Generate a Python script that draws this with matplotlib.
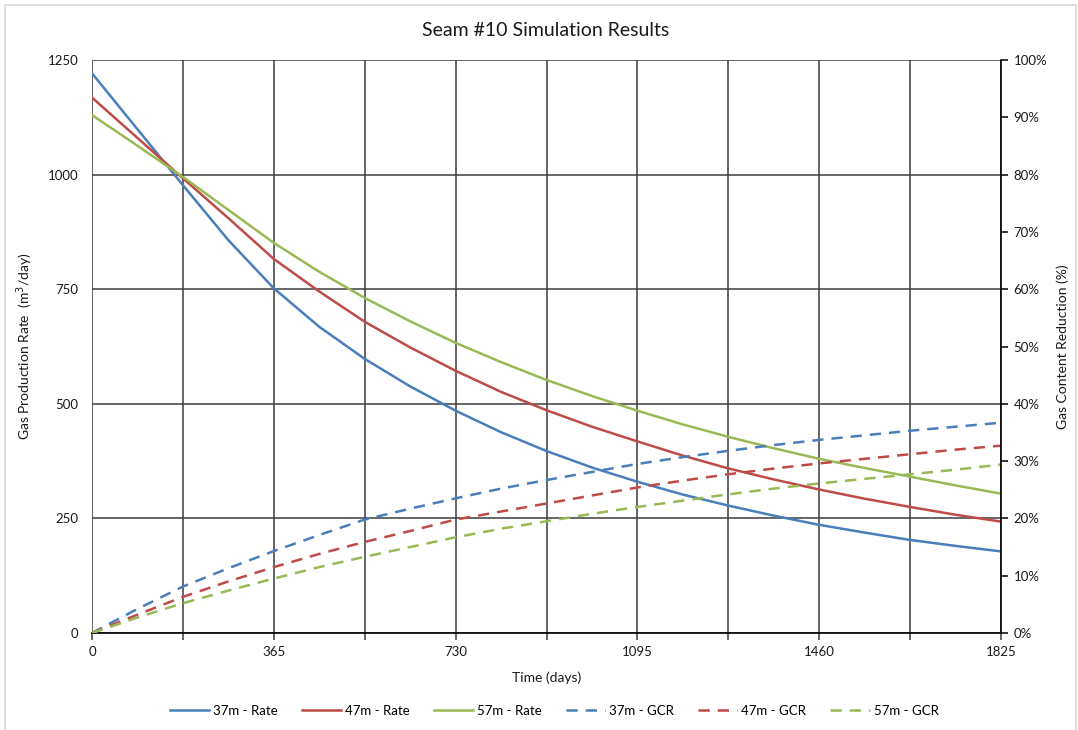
import matplotlib
matplotlib.use("Agg")
import matplotlib.pyplot as plt
from matplotlib.patches import Rectangle
from matplotlib.ticker import FixedLocator, FuncFormatter

plt.rcParams['font.family'] = ['Lato', 'DejaVu Sans']

# Time axis (days)
days = [0, 91.25, 182.5, 273.75, 365, 456.25, 547.5, 638.75, 730, 821.25, 912.5,
        1003.75, 1095, 1186.25, 1277.5, 1368.75, 1460, 1551.25, 1642.5, 1733.75, 1825]

# Gas production rate (m3/day)
rate_37m = [1221, 1099, 977, 857, 752, 668, 598, 538, 485, 438, 397,
            361, 330, 302, 278, 256, 236, 219, 203, 190, 178]
rate_47m = [1168, 1080, 992, 905, 816, 745, 679, 623, 572, 526, 486,
            450, 418, 387, 359, 335, 313, 293, 275, 258, 243]
rate_57m = [1130, 1063, 995, 923, 851, 788, 731, 680, 633, 591, 552,
            517, 485, 455, 428, 403, 380, 360, 341, 322, 304]

# Gas content reduction (%)
gcr_37m = [0, 4.2, 8.1, 11.3, 14.3, 17.1, 19.8, 21.7, 23.5, 25.2, 26.7,
           28.1, 29.5, 30.7, 31.8, 32.8, 33.7, 34.5, 35.3, 36.0, 36.7]
gcr_47m = [0, 3.2, 6.3, 9.0, 11.5, 13.8, 15.9, 17.8, 19.8, 21.2, 22.6,
           24.0, 25.4, 26.6, 27.7, 28.7, 29.6, 30.4, 31.2, 32.0, 32.7]
gcr_57m = [0, 2.7, 5.2, 7.4, 9.5, 11.5, 13.3, 15.0, 16.7, 18.2, 19.5,
           20.8, 22.0, 23.1, 24.2, 25.2, 26.1, 26.9, 27.7, 28.5, 29.4]

x_ticks = [0, 365, 730, 1095, 1460, 1825]
x_grid = [i * 182.5 for i in range(11)]
left_ticks = [0, 250, 500, 750, 1000, 1250]
right_ticks = list(range(0, 101, 10))

BLUE = '#4a7ebb'
RED = '#be4b48'
GREEN = '#98b954'
GRID = '#3c3c3c'
TXT = '#1a1a1a'

W, H = 1078, 730
fig = plt.figure(figsize=(W / 100, H / 100), dpi=100)
fig.patches.append(Rectangle((5 / W, -0.01), (1076 - 5) / W, 1 - 5 / H + 0.01,
                             transform=fig.transFigure, fill=False,
                             edgecolor='#d9d9d9', linewidth=1.2))

ax = fig.add_axes([92 / W, 1 - 633 / H, (1001 - 92) / W, (633 - 60) / H])
ax2 = ax.twinx()

ax.set_xlim(0, 1825)
ax.set_ylim(0, 1250)
ax2.set_ylim(0, 100)

# Grid
for xv in x_grid:
    ax.axvline(xv, color=GRID, lw=1.1, zorder=0)
for yv in left_ticks:
    ax.axhline(yv, color=GRID, lw=1.1, zorder=0)

lw = 1.8
l1, = ax.plot(days, rate_37m, color=BLUE, lw=lw, label='37m - Rate', zorder=3)
l2, = ax.plot(days, rate_47m, color=RED, lw=lw, label='47m - Rate', zorder=3)
l3, = ax.plot(days, rate_57m, color=GREEN, lw=lw, label='57m - Rate', zorder=3)
dash = (0, (4.5, 3.2))
l4, = ax2.plot(days, gcr_37m, color=BLUE, lw=lw, ls=dash, label='37m - GCR')
l5, = ax2.plot(days, gcr_47m, color=RED, lw=lw, ls=dash, label='47m - GCR')
l6, = ax2.plot(days, gcr_57m, color=GREEN, lw=lw, ls=dash, label='57m - GCR')

for a in (ax, ax2):
    for s in a.spines.values():
        s.set_visible(False)
ax2.spines['right'].set_visible(True)
ax2.spines['right'].set_color('#000000')
ax2.spines['right'].set_linewidth(1.2)
ax.spines['bottom'].set_visible(True)
ax.spines['bottom'].set_color('#000000')
ax.spines['bottom'].set_linewidth(1.2)

ax.xaxis.set_major_locator(FixedLocator(x_grid))
ax.xaxis.set_major_formatter(FuncFormatter(
    lambda v, p: f"{int(round(v))}" if int(round(v)) in x_ticks and abs(v - round(v)) < 1e-6 else ""))
ax.tick_params(axis='x', direction='out', length=5, width=1.1, color=GRID,
               labelsize=9.5, labelcolor=TXT, pad=4)
ax.set_yticks(left_ticks)
ax.tick_params(axis='y', length=0, labelsize=9.5, labelcolor=TXT, pad=10)
ax2.set_yticks(right_ticks)
ax2.yaxis.set_major_formatter(FuncFormatter(lambda v, p: f"{int(v)}%"))
ax2.tick_params(axis='y', direction='out', length=5, width=1.1, color='#000000',
                labelsize=9.5, labelcolor=TXT, pad=4)

ax.set_xlabel('Time (days)', fontsize=10, color=TXT, labelpad=10)
ax.set_ylabel('Gas Production Rate  (m$^3$/day)', fontsize=10, color=TXT, labelpad=9)
ax2.set_ylabel('Gas Content Reduction (%)', fontsize=10, color=TXT, labelpad=7)

fig.text(546 / W, 1 - 30 / H, 'Seam #10 Simulation Results', ha='center', va='center',
         fontsize=14, color=TXT)

fig.legend(handles=[l1, l2, l3, l4, l5, l6], loc='center', ncol=6,
           bbox_to_anchor=(554 / W, 1 - 711 / H), frameon=False, fontsize=9.5,
           handlelength=3.0, columnspacing=1.8, handletextpad=0.3)

fig.savefig('out.png', dpi=100)
